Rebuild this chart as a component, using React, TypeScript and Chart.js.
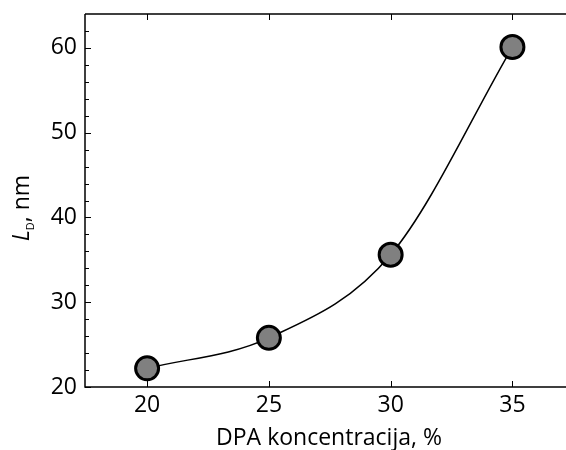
import React, { useEffect, useRef } from "react";
import { Chart, registerables } from "chart.js";

Chart.register(...registerables);

const CONCENTRATION = [20, 25, 30, 35];
const LD_VALUES = [22.2, 25.8, 35.6, 60.1];
const X_TICKS = [20, 25, 30, 35];
const Y_TICKS = [20, 30, 40, 50, 60];
const Y_MINOR = [22, 24, 26, 28, 32, 34, 36, 38, 42, 44, 46, 48, 52, 54, 56, 58, 62];
const X_TITLE = "DPA koncentracija, %";
const FONT = "'Open Sans', 'DejaVu Sans', sans-serif";

const axesPlugin = {
  id: "customAxes",
  afterDraw(chart: any) {
    const { ctx, chartArea } = chart;
    const xs = chart.scales.x;
    const ys = chart.scales.y;
    const { left, right, top, bottom } = chartArea;
    ctx.save();
    ctx.strokeStyle = "#000";
    ctx.lineWidth = 1.5;
    ctx.beginPath();
    ctx.moveTo(left, top);
    ctx.lineTo(right, top);
    ctx.moveTo(left, top);
    ctx.lineTo(left, bottom);
    ctx.lineTo(right, bottom);
    ctx.stroke();
    ctx.lineWidth = 1;
    ctx.beginPath();
    for (const v of X_TICKS) {
      const px = Math.round(xs.getPixelForValue(v)) + 0.5;
      ctx.moveTo(px, bottom);
      ctx.lineTo(px, bottom - 6);
      ctx.moveTo(px, top);
      ctx.lineTo(px, top + 6);
    }
    for (const v of Y_TICKS) {
      const py = Math.round(ys.getPixelForValue(v)) + 0.5;
      ctx.moveTo(left, py);
      ctx.lineTo(left + 6, py);
    }
    for (const v of Y_MINOR) {
      const py = Math.round(ys.getPixelForValue(v)) + 0.5;
      ctx.moveTo(left, py);
      ctx.lineTo(left + 4, py);
    }
    ctx.stroke();

    // x title
    ctx.fillStyle = "#000";
    ctx.font = `23px ${FONT}`;
    ctx.textAlign = "center";
    ctx.textBaseline = "alphabetic";
    ctx.fillText(X_TITLE, 329, 445);

    // y title: L_D, nm (rotated)
    ctx.translate(29, 208);
    ctx.rotate(-Math.PI / 2);
    ctx.textAlign = "left";
    const fMain = `23px ${FONT}`;
    const fItal = `italic 23px ${FONT}`;
    const fSub = `11px ${FONT}`;
    ctx.font = fItal;
    const wL = ctx.measureText("L").width;
    ctx.font = fSub;
    const wD = ctx.measureText("D").width;
    ctx.font = fMain;
    const wR = ctx.measureText(", nm").width;
    const total = wL + wD + wR;
    let x = -total / 2;
    ctx.font = fItal;
    ctx.fillText("L", x, 0);
    x += wL;
    ctx.font = fSub;
    ctx.fillText("D", x, 5);
    x += wD;
    ctx.font = fMain;
    ctx.fillText(", nm", x, 0);
    ctx.restore();
  },
};

export default function App() {
  const ref = useRef<HTMLCanvasElement>(null);
  useEffect(() => {
    const chart = new Chart(ref.current!, {
      type: "line",
      data: {
        datasets: [
          {
            data: CONCENTRATION.map((c, i) => ({ x: c, y: LD_VALUES[i] })),
            borderColor: "#000",
            borderWidth: 1.5,
            cubicInterpolationMode: "monotone",
            pointRadius: 11.5,
            pointBorderWidth: 3,
            pointBackgroundColor: "#808080",
            pointBorderColor: "#000",
            clip: false as any,
          },
        ],
      },
      options: {
        animation: false,
        responsive: false,
        maintainAspectRatio: false,
        layout: { autoPadding: false, padding: { top: 14, right: 0, left: 0, bottom: 0 } },
        plugins: { legend: { display: false }, tooltip: { enabled: false } },
        scales: {
          x: {
            type: "linear",
            min: 17.45,
            max: 37.2,
            grid: { display: false, drawTicks: false },
            border: { display: false },
            afterBuildTicks: (s: any) => {
              s.ticks = X_TICKS.map((v) => ({ value: v }));
            },
            afterFit: (s: any) => {
              s.height = 63;
              s.paddingLeft = 0;
              s.paddingRight = 0;
              s.paddingTop = 0;
              s.paddingBottom = 0;
            },
            ticks: {
              color: "#000",
              font: { family: FONT, size: 23 },
              padding: 5,
              maxRotation: 0,
            },
          },
          y: {
            type: "linear",
            min: 20,
            max: 64,
            grid: { display: false, drawTicks: false },
            border: { display: false },
            afterBuildTicks: (s: any) => {
              s.ticks = Y_TICKS.map((v) => ({ value: v }));
            },
            afterFit: (s: any) => {
              s.width = 85;
              s.paddingLeft = 0;
              s.paddingRight = 0;
              s.paddingTop = 0;
              s.paddingBottom = 0;
            },
            ticks: {
              color: "#000",
              font: { family: FONT, size: 23 },
              padding: 8,
            },
          },
        },
      },
      plugins: [axesPlugin],
    });
    return () => chart.destroy();
  }, []);
  return (
    <div style={{ position: "absolute", left: 0, top: 0, width: 566, height: 450, background: "#fff" }}>
      <canvas ref={ref} width={566} height={450} style={{ width: 566, height: 450 }} />
    </div>
  );
}
